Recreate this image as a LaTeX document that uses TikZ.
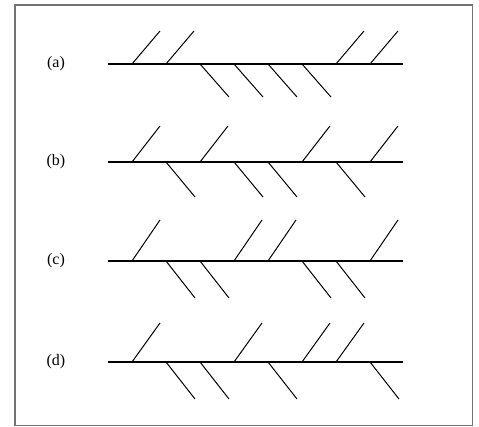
\documentclass[tikz,border=0pt]{standalone}
\usepackage{fontspec}
\setmainfont{Liberation Serif}
\usetikzlibrary{positioning,calc}

\begin{document}
\begin{tikzpicture}[x=0.5pt, y=-0.5pt,
  spine/.style={line width=0.6pt, black},
  twig/.style={line width=0.5pt, black},
  lbl/.style={font=\fontsize{8}{9.5}\selectfont, inner sep=0pt},
  frm/.style={draw=black!55, line width=0.7pt},
]
\useasboundingbox (0,0) rectangle (479,427);
\draw[frm] (15,5) rectangle (472.5,425.5);

% one row per label: spine y, twig heights up/down, slots above, slots below
\foreach \name/\yy/\hu/\hd/\ups/\downs in {a/64/33/33/{1,2,7,8}/{3,4,5,6},
    b/162/36/35/{1,3,6,8}/{2,4,5,7},
    c/261/41/37/{1,4,5,8}/{2,3,6,7},
    d/362/39/37/{1,4,6,7}/{2,3,5,8}}{
  \node[lbl] (lab\name) at (56,\yy) {(\name)};
  \coordinate (sp\name-w) at (108,\yy);
  \coordinate (sp\name-e) at (403.5,\yy);
  \draw[spine] (sp\name-w) -- (sp\name-e);
  \foreach \k in \ups{
    \coordinate (up\name\k) at ($(sp\name-w)+(34*\k-10,0)$);
    \draw[twig] (up\name\k) -- ++(28,-\hu);
  }
  \foreach \k in \downs{
    \coordinate (dn\name\k) at ($(sp\name-w)+(34*\k-10,0)$);
    \draw[twig] (dn\name\k) -- ++(29,\hd);
  }
}
\end{tikzpicture}
\end{document}
